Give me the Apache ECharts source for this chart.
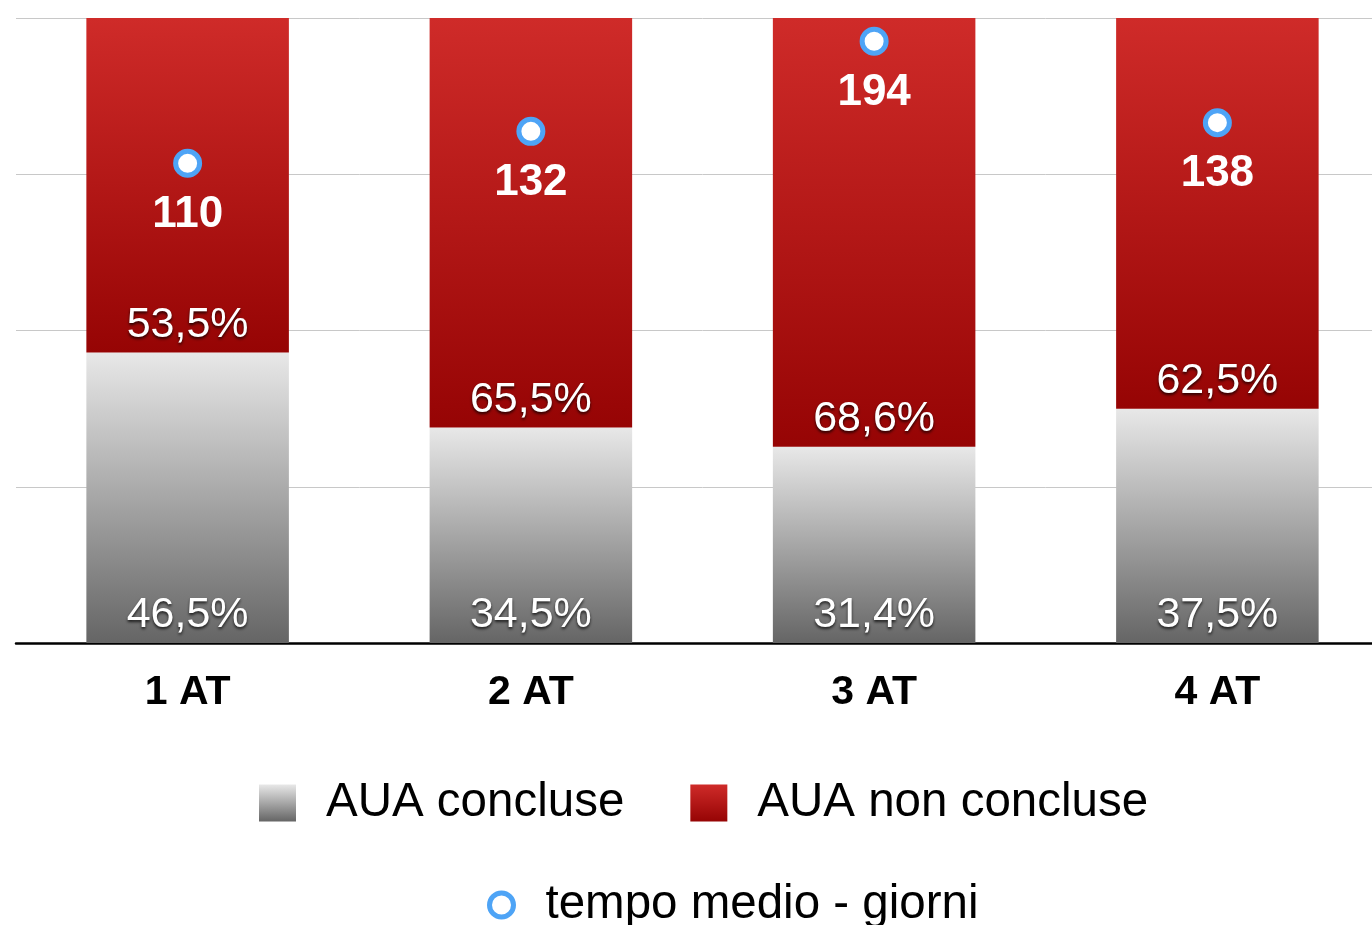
<!DOCTYPE html>
<html>
<head>
<meta charset="UTF-8">
<title>AUA</title>
<script src="https://cdn.jsdelivr.net/npm/echarts@6/dist/echarts.min.js"></script>
<style>
	html, body { margin: 0; padding: 0; background: #fff; overflow: hidden; }
	#main { width: 1400px; height: 925px; }
</style>
</head>
<body>
<div id="main"></div>
<script type="text/javascript">
	// dati
	var categorie = ['1 AT', '2 AT', '3 AT', '4 AT'];
	var concluse = [46.5, 34.5, 31.4, 37.5];
	var nonConcluse = [53.5, 65.5, 68.6, 62.5];
	var tempoMedio = [110, 132, 194, 138];

	var font = 'Liberation Sans, Arial, Helvetica, sans-serif';
	var blu = '#4ea4f6';

	function grad(top, bottom) {
		return new echarts.graphic.LinearGradient(0, 0, 0, 1, [
			{ offset: 0, color: top },
			{ offset: 1, color: bottom }
		]);
	}

	var pctLabel = {
		show: true,
		position: 'insideBottom',
		distance: 6,
		color: '#fff',
		fontFamily: font,
		fontSize: 43,
		textShadowColor: 'rgba(0,0,0,0.75)',
		textShadowBlur: 3,
		textShadowOffsetY: 2,
		formatter: function (p) {
			return p.value.toFixed(1).replace('.', ',') + '%';
		}
	};

	// il div e' piu' largo della finestra: l'ultima barra esce a destra come nell'originale
	var myChart = echarts.init(document.getElementById('main'));

	myChart.setOption({
		animation: false,
		grid: { left: 16, top: 18, width: 1373, height: 625 },
		legend: [
			{
				data: [
					{ name: 'AUA concluse', icon: 'rect' },
					{ name: 'AUA non concluse', icon: 'rect' }
				],
				left: 259,
				top: 779,
				padding: 0,
				itemWidth: 37,
				itemHeight: 37,
				itemGap: 66,
				textStyle: { fontFamily: font, fontSize: 47.5, color: '#000', padding: [0, 0, 0, 25] }
			},
			{
				data: [{
					name: 'tempo medio - giorni',
					icon: 'circle',
					itemStyle: { color: '#fff', borderColor: blu, borderWidth: 5 }
				}],
				left: 487,
				top: 881,
				padding: 0,
				itemWidth: 24,
				itemHeight: 24,
				textStyle: { fontFamily: font, fontSize: 47.5, color: '#000', padding: [0, 0, 0, 27] }
			}
		],
		xAxis: {
			type: 'category',
			data: categorie,
			axisLine: { lineStyle: { color: '#000', width: 2.5 } },
			axisTick: { show: false },
			axisLabel: { fontFamily: font, fontSize: 41, fontWeight: 'bold', color: '#000', margin: 29 }
		},
		yAxis: [
			{
				type: 'value',
				min: 0,
				max: 100,
				interval: 25,
				axisLabel: { show: false },
				axisLine: { show: false },
				axisTick: { show: false },
				splitLine: { lineStyle: { color: '#c8c8c8', width: 1 } }
			},
			{
				type: 'value',
				min: -220,
				max: 210,
				show: false,
				splitLine: { show: false }
			}
		],
		series: [
			{
				name: 'AUA concluse',
				type: 'bar',
				stack: 'tot',
				barWidth: '59%',
				data: concluse,
				itemStyle: { color: grad('#e8e8e8', '#656565') },
				label: pctLabel
			},
			{
				name: 'AUA non concluse',
				type: 'bar',
				stack: 'tot',
				data: nonConcluse,
				itemStyle: { color: grad('#cf2b29', '#960404') },
				label: pctLabel
			},
			{
				name: 'tempo medio - giorni',
				type: 'scatter',
				yAxisIndex: 1,
				data: tempoMedio,
				symbol: 'circle',
				symbolSize: 24,
				itemStyle: { color: '#fff', borderColor: blu, borderWidth: 5, opacity: 1 },
				label: {
					show: true,
					position: 'bottom',
					distance: 15,
					color: '#fff',
					fontFamily: font,
					fontSize: 44,
					fontWeight: 'bold'
				},
				z: 5
			}
		]
	});
</script>
</body>
</html>
